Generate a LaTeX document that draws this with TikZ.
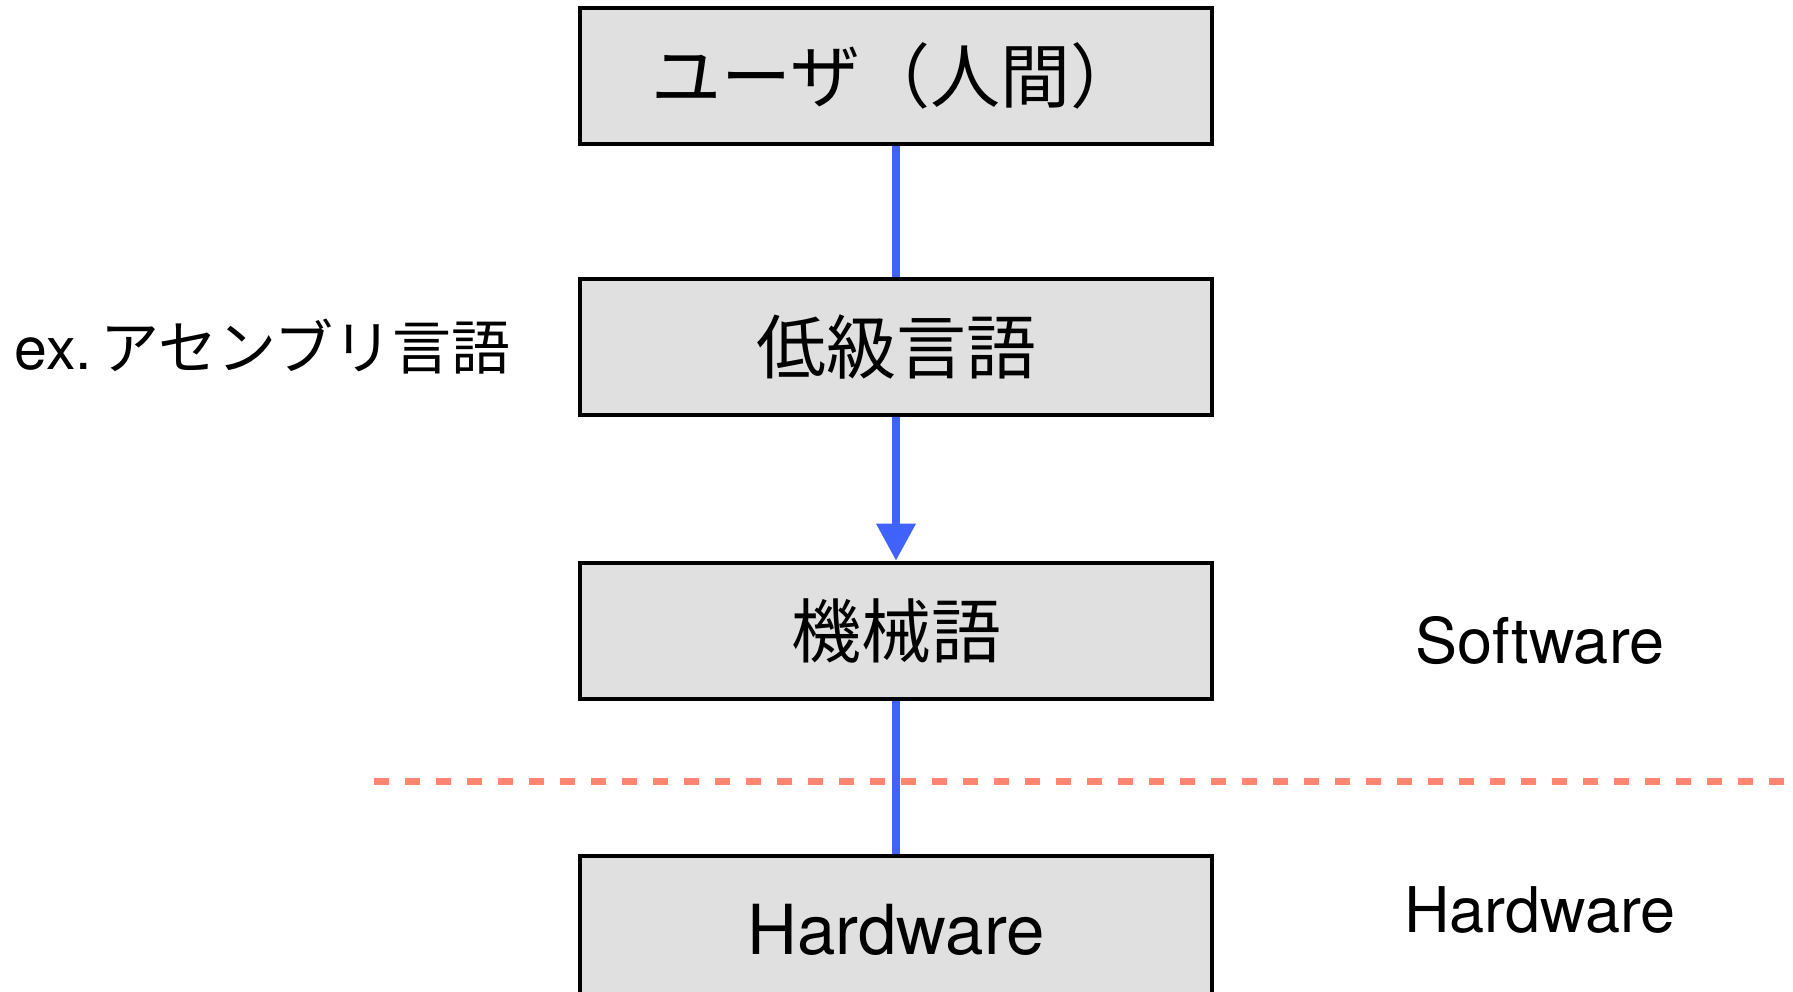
\documentclass[tikz,border=0pt]{standalone}
\usepackage{fontspec}
\setmainfont{TeX Gyre Heros}
\newfontfamily\jp{Noto Sans CJK JP}
\usetikzlibrary{positioning,arrows.meta}

\definecolor{flowblue}{RGB}{64,98,255}
\definecolor{boxgray}{RGB}{224,224,224}
\definecolor{cutred}{RGB}{255,133,113}

\tikzset{
    langbox/.style={draw=black,line width=2pt,fill=boxgray,minimum width=316pt,
        minimum height=68pt,inner sep=0pt,font=\fontsize{35}{40}\selectfont},
    flow/.style={flowblue,line width=3.6pt},
    cut/.style={cutred,line width=3.5pt,dash pattern=on 7.5pt off 8pt},
    side/.style={font=\fontsize{31.5}{36}\selectfont},
}

\begin{document}
\begin{tikzpicture}[x=0.5pt,y=-0.5pt]

    \useasboundingbox (0,0) rectangle (1793,991);

    \node[langbox] (user) at (896,76) {\jp ユーザ（人間）};
    \node[langbox, below=65.5pt of user] (low) {\jp 低級言語};
    \node[langbox, below=71.8pt of low] (mach) {\jp 機械語};
    \node[langbox, below=76.5pt of mach, minimum height=74pt, font=\fontsize{34.5}{40}\selectfont] (hard) {Hardware};

    \node[side, left=30pt of low, font=\fontsize{29.5}{32}\selectfont] (asm) {ex.\hspace{0.15em}{\jp アセンブリ言語}};
    \node[side, anchor=base] (soft) at (1540,663) {Software};
    \node[side, anchor=base] (hw) at (1540,932) {Hardware};

    % software / hardware border
    \coordinate (cutL) at (374,781);
    \coordinate (cutR) at (1793,781);
    \draw[cut] (cutL) -- (cutR);

    \draw[flow] (user) -- (low);
    \draw[flow,-{Triangle[length=18.5pt,width=19pt]}] (low) -- (mach);
    \draw[flow] (mach) -- (hard);

\end{tikzpicture}
\end{document}
